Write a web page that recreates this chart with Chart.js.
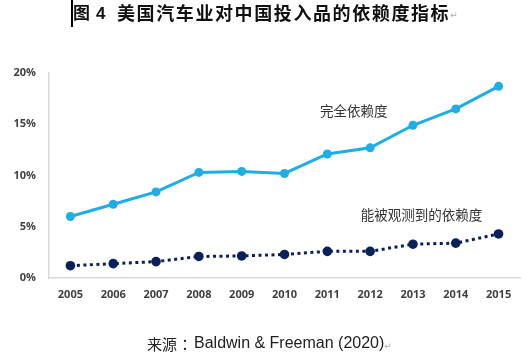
<!DOCTYPE html>
<html>
<head>
<meta charset="utf-8">
<script src="https://cdn.jsdelivr.net/npm/chart.js@4"></script>
<style>
  html, body { margin: 0; padding: 0; background: #ffffff; }
  #wrap { width: 529px; height: 357px; }
</style>
</head>
<body>
<div id="wrap"><canvas id="c" width="529" height="357"></canvas></div>
<script>
const years = ['2005','2006','2007','2008','2009','2010','2011','2012','2013','2014','2015'];
const totalDependence = [6.0, 7.2, 8.4, 10.3, 10.4, 10.2, 12.1, 12.7, 14.9, 16.5, 18.7];
const observedDependence = [1.2, 1.4, 1.6, 2.1, 2.15, 2.3, 2.6, 2.6, 3.3, 3.4, 4.3];
const seriesNames = ['完全依赖度', '能被观测到的依赖度'];
const yTicks = [0, 5, 10, 15, 20];
const titleParts = ['图', '4', '美国汽车业对中国投入品的依赖度指标'];
const sourceParts = ['来源', '：', 'Baldwin & Freeman (2020)'];
// label anchors: [category index, value]
const labelAnchors = [[6.62, 16.3], [8.2, 6.2]];

const LIGHT = '#1eaee6';
const DARK = '#0b1f5a';

const textPlugin = {
  id: 'texts',
  afterDraw(chart) {
    const ctx = chart.ctx;
    const xs = chart.scales.x, ys = chart.scales.y;
    ctx.save();
    // cursor bar
    ctx.fillStyle = '#000';
    ctx.fillRect(71, 0, 2, 27);
    // title
    ctx.fillStyle = '#111';
    ctx.textBaseline = 'middle';
    ctx.textAlign = 'left';
    ctx.font = 'bold 17px "Noto Sans CJK SC", sans-serif';
    ctx.letterSpacing = '0px';
    ctx.fillText(titleParts[0], 73, 13);
    ctx.font = 'bold 17px "Liberation Sans", Arial, sans-serif';
    ctx.fillText(titleParts[1], 96, 14);
    ctx.font = 'bold 18px "Noto Sans CJK SC", sans-serif';
    ctx.letterSpacing = '1.6px';
    ctx.fillText(titleParts[2], 117, 13);
    const tw = ctx.measureText(titleParts[2]).width;
    ctx.letterSpacing = '0px';
    ctx.fillStyle = '#aaa';
    ctx.font = '9px "DejaVu Sans", sans-serif';
    ctx.fillText('↵', 117 + tw, 16);
    // series labels
    ctx.fillStyle = '#333';
    ctx.textAlign = 'center';
    ctx.font = '13.5px "Noto Sans CJK SC", sans-serif';
    seriesNames.forEach((n, i) => {
      const a = labelAnchors[i];
      const px = xs.left + (a[0] + 0.5) * (xs.width / years.length);
      ctx.fillText(n, px, ys.getPixelForValue(a[1]));
    });
    // source
    ctx.textAlign = 'left';
    ctx.fillStyle = '#222';
    ctx.font = '15px "Noto Sans CJK SC", sans-serif';
    ctx.fillText(sourceParts[0], 147, 344);
    ctx.textAlign = 'center';
    ctx.font = '15px "Noto Sans CJK TC", sans-serif';
    ctx.fillText(sourceParts[1], 185, 344);
    ctx.textAlign = 'left';
    ctx.font = '16px "Liberation Sans", Arial, sans-serif';
    ctx.fillText(sourceParts[2], 194, 344);
    const w2 = ctx.measureText(sourceParts[2]).width;
    ctx.fillStyle = '#aaa';
    ctx.font = '9px "DejaVu Sans", sans-serif';
    ctx.fillText('↵', 194 + w2, 347);
    ctx.restore();
  }
};

new Chart(document.getElementById('c'), {
  type: 'line',
  data: {
    labels: years,
    datasets: [
      {
        label: seriesNames[0],
        data: totalDependence,
        borderColor: LIGHT,
        backgroundColor: LIGHT,
        borderWidth: 3,
        pointRadius: 4.5,
        pointHoverRadius: 4.5,
        pointBorderWidth: 0,
        tension: 0
      },
      {
        label: seriesNames[1],
        data: observedDependence,
        borderColor: DARK,
        backgroundColor: DARK,
        borderWidth: 3,
        borderDash: [3, 3.5],
        pointRadius: 4.8,
        pointHoverRadius: 4.8,
        pointBorderWidth: 0,
        tension: 0
      }
    ]
  },
  options: {
    responsive: false,
    animation: false,
    devicePixelRatio: 1,
    layout: { padding: { top: 73, right: 9, bottom: 0, left: 0 } },
    plugins: {
      legend: { display: false },
      title: { display: false },
      tooltip: { enabled: false }
    },
    scales: {
      x: {
        offset: true,
        grid: { display: false, drawTicks: false },
        border: { display: true, color: '#d9d9d9', width: 1.5 },
        ticks: {
          color: '#404040',
          padding: 10,
          maxRotation: 0,
          autoSkip: false,
          font: { family: '"Open Sans", sans-serif', size: 11, weight: 'bold' }
        },
        afterFit(s) { s.height = 79; }
      },
      y: {
        min: 0,
        max: 20,
        afterBuildTicks(s) { s.ticks = yTicks.map(v => ({ value: v })); },
        grid: { display: false, drawTicks: false },
        border: { display: true, color: '#d9d9d9', width: 1.5 },
        ticks: {
          color: '#404040',
          padding: 13,
          callback: v => v + '%',
          font: { family: '"Open Sans", sans-serif', size: 11, weight: 'bold' }
        },
        afterFit(s) { s.width = 49; }
      }
    }
  },
  plugins: [textPlugin]
});
</script>
</body>
</html>
